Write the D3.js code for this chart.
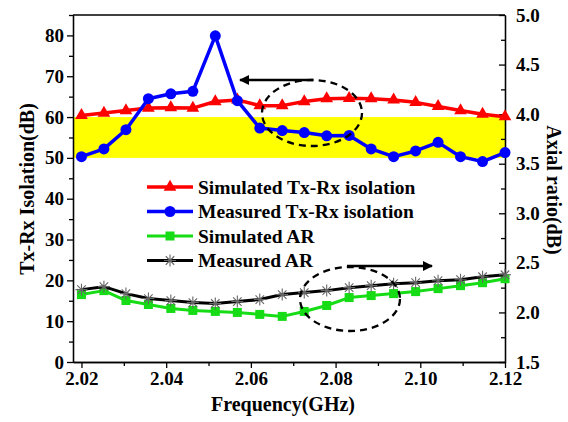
<!DOCTYPE html>
<html>
<head>
<meta charset="utf-8">
<script src="https://cdn.jsdelivr.net/npm/d3@7"></script>
<style>
  body { margin: 0; background: #fff; }
  svg { font-family: "Liberation Serif", "Times New Roman", serif; font-weight: bold; }
</style>
</head>
<body>
<svg width="568" height="422"></svg>
<script>
// frequency points (GHz)
var freq = [2.0200, 2.0253, 2.0305, 2.0358, 2.0411, 2.0463, 2.0516, 2.0568, 2.0621, 2.0674,
            2.0726, 2.0779, 2.0832, 2.0884, 2.0937, 2.0989, 2.1042, 2.1095, 2.1147, 2.1200];
var simIso = [60.4, 61.0, 61.6, 62.2, 62.3, 62.2, 63.8, 64.2, 62.8, 62.8,
              63.8, 64.5, 64.6, 64.5, 64.2, 63.6, 62.6, 61.6, 60.7, 60.1];
var measIso = [50.3, 52.2, 56.9, 64.5, 65.7, 66.3, 79.9, 64.0, 57.3, 56.7,
               56.2, 55.4, 55.5, 52.2, 50.3, 51.7, 53.8, 50.3, 49.1, 51.3];
var simAR = [2.18, 2.22, 2.12, 2.08, 2.04, 2.02, 2.01, 2.00, 1.98, 1.96,
             2.01, 2.07, 2.15, 2.17, 2.19, 2.21, 2.24, 2.27, 2.30, 2.34];
var measAR = [2.23, 2.26, 2.19, 2.14, 2.12, 2.10, 2.09, 2.11, 2.13, 2.18,
              2.20, 2.22, 2.25, 2.27, 2.29, 2.30, 2.32, 2.33, 2.36, 2.38];
var xTicks = [2.02, 2.04, 2.06, 2.08, 2.10, 2.12];
var yLeftTicks = [0, 10, 20, 30, 40, 50, 60, 70, 80];
var yRightTicks = [1.5, 2.0, 2.5, 3.0, 3.5, 4.0, 4.5, 5.0];
var band = [50, 60];

var svg = d3.select("svg");
var pL = 73, pR = 505, pT = 15, pB = 362;

var x = d3.scaleLinear().domain([2.018, 2.12]).range([pL, pR]);
var yL = d3.scaleLinear().domain([0, 85]).range([pB, pT]);
var yR = d3.scaleLinear().domain([1.5, 5.0]).range([pB, pT]);

// yellow band
svg.append("rect")
  .attr("x", pL).attr("width", pR - pL)
  .attr("y", yL(band[1])).attr("height", yL(band[0]) - yL(band[1]))
  .attr("fill", "#ffff00");

// axes
function styleAxis(g) {
  g.attr("font-size", null).attr("font-family", null);
  g.selectAll("path, line").attr("stroke", "#000").attr("stroke-width", 1.3);
  g.selectAll("text").style("font-size", "19px").style("font-weight", "bold").attr("fill", "#000");
}
var xAxis = svg.append("g").attr("transform", "translate(0," + pB + ")")
  .call(d3.axisBottom(x).tickValues(xTicks).tickFormat(d3.format(".2f")).tickSize(6).tickSizeOuter(0).tickPadding(4));
styleAxis(xAxis);
var xMinor = svg.append("g").attr("transform", "translate(0," + pB + ")")
  .call(d3.axisBottom(x).tickValues([2.03, 2.05, 2.07, 2.09, 2.11]).tickFormat("").tickSize(4).tickSizeOuter(0));
styleAxis(xMinor);

var yAxisL = svg.append("g").attr("transform", "translate(" + pL + ",0)")
  .call(d3.axisLeft(yL).tickValues(yLeftTicks).tickSize(6).tickSizeOuter(0).tickPadding(3));
styleAxis(yAxisL);
var yMinorL = svg.append("g").attr("transform", "translate(" + pL + ",0)")
  .call(d3.axisLeft(yL).tickValues([5, 15, 25, 35, 45, 55, 65, 75, 85]).tickFormat("").tickSize(4).tickSizeOuter(0));
styleAxis(yMinorL);

var yAxisR = svg.append("g").attr("transform", "translate(" + pR + ",0)")
  .call(d3.axisRight(yR).tickValues(yRightTicks).tickFormat(d3.format(".1f")).tickSize(-6).tickSizeOuter(0).tickPadding(11));
styleAxis(yAxisR);
var yMinorR = svg.append("g").attr("transform", "translate(" + pR + ",0)")
  .call(d3.axisRight(yR).tickValues([1.75, 2.25, 2.75, 3.25, 3.75, 4.25, 4.75]).tickFormat("").tickSize(-4).tickSizeOuter(0));
styleAxis(yMinorR);

// top border
svg.append("line").attr("x1", pL).attr("x2", pR).attr("y1", pT).attr("y2", pT)
  .attr("stroke", "#000").attr("stroke-width", 1.3);

// axis titles
svg.append("text").attr("x", 283).attr("y", 411).attr("text-anchor", "middle")
  .attr("font-size", "20px").text("Frequency(GHz)");
svg.append("text").attr("transform", "translate(34,189) rotate(-90)").attr("text-anchor", "middle")
  .attr("font-size", "20px").text("Tx-Rx Isolation(dB)");
svg.append("text").attr("transform", "translate(547,190) rotate(90)").attr("text-anchor", "middle")
  .attr("font-size", "20px").text("Axial ratio(dB)");

// marker drawing
function drawMarker(g, type, color) {
  if (type === "tri") {
    g.append("path").attr("d", d3.symbol(d3.symbolTriangle, 70)()).attr("fill", color);
  } else if (type === "circle") {
    g.append("circle").attr("r", 5.5).attr("fill", color);
  } else if (type === "square") {
    g.append("rect").attr("x", -4.5).attr("y", -4.5).attr("width", 9).attr("height", 9).attr("fill", color);
  } else if (type === "star") {
    var r = 6, s = r * Math.SQRT1_2;
    g.append("path")
      .attr("d", "M" + (-r) + ",0L" + r + ",0M0," + (-r) + "L0," + r +
                 "M" + (-s) + "," + (-s) + "L" + s + "," + s + "M" + (-s) + "," + s + "L" + s + "," + (-s))
      .attr("stroke", "#666").attr("stroke-width", 1.1).attr("fill", "none");
  }
}

var series = [
  { name: "Simulated Tx-Rx isolation", vals: simIso, y: yL, color: "#ff0000", marker: "tri", w: 3.5 },
  { name: "Measured Tx-Rx isolation", vals: measIso, y: yL, color: "#0000ff", marker: "circle", w: 3.5 },
  { name: "Simulated AR", vals: simAR, y: yR, color: "#16dc16", marker: "square", w: 3 },
  { name: "Measured AR", vals: measAR, y: yR, color: "#000000", marker: "star", w: 3 }
];

series.forEach(function(s) {
  var line = d3.line().x(function(d, i) { return x(freq[i]); }).y(function(d) { return s.y(d); });
  svg.append("path").datum(s.vals).attr("d", line)
    .attr("fill", "none").attr("stroke", s.color).attr("stroke-width", s.w)
    .attr("stroke-linejoin", "round");
  svg.selectAll(null).data(s.vals).enter().append("g")
    .attr("transform", function(d, i) { return "translate(" + x(freq[i]) + "," + s.y(d) + ")"; })
    .each(function() { drawMarker(d3.select(this), s.marker, s.color); });
});

// legend
var lg = svg.append("g").attr("transform", "translate(147,187)");
series.forEach(function(s, i) {
  var row = lg.append("g").attr("transform", "translate(0," + (i * 24.5) + ")");
  row.append("line").attr("x1", 0).attr("x2", 46).attr("stroke", s.color).attr("stroke-width", s.w);
  drawMarker(row.append("g").attr("transform", "translate(23,0)"), s.marker, s.color);
  row.append("text").attr("x", 51).attr("y", 6.5).attr("font-size", "19.5px").text(s.name);
});

// annotations: dashed ellipses and arrows
svg.append("defs").append("marker").attr("id", "ah").attr("viewBox", "0 0 10 10")
  .attr("refX", 9).attr("refY", 5).attr("markerWidth", 5).attr("markerHeight", 4)
  .attr("markerUnits", "strokeWidth").attr("orient", "auto")
  .append("path").attr("d", "M0,0L10,5L0,10Z").attr("fill", "#000");

svg.append("ellipse").attr("cx", 312).attr("cy", 113).attr("rx", 50).attr("ry", 33)
  .attr("fill", "none").attr("stroke", "#000").attr("stroke-width", 2.3).attr("stroke-dasharray", "7,5");
svg.append("ellipse").attr("cx", 350).attr("cy", 299).attr("rx", 50).attr("ry", 32)
  .attr("fill", "none").attr("stroke", "#000").attr("stroke-width", 2.3).attr("stroke-dasharray", "7,5");

svg.append("line").attr("x1", 313).attr("y1", 80).attr("x2", 240).attr("y2", 80)
  .attr("stroke", "#000").attr("stroke-width", 2.5).attr("marker-end", "url(#ah)");
svg.append("line").attr("x1", 347).attr("y1", 266).attr("x2", 432).attr("y2", 266)
  .attr("stroke", "#000").attr("stroke-width", 2.5).attr("marker-end", "url(#ah)");
</script>
</body>
</html>
